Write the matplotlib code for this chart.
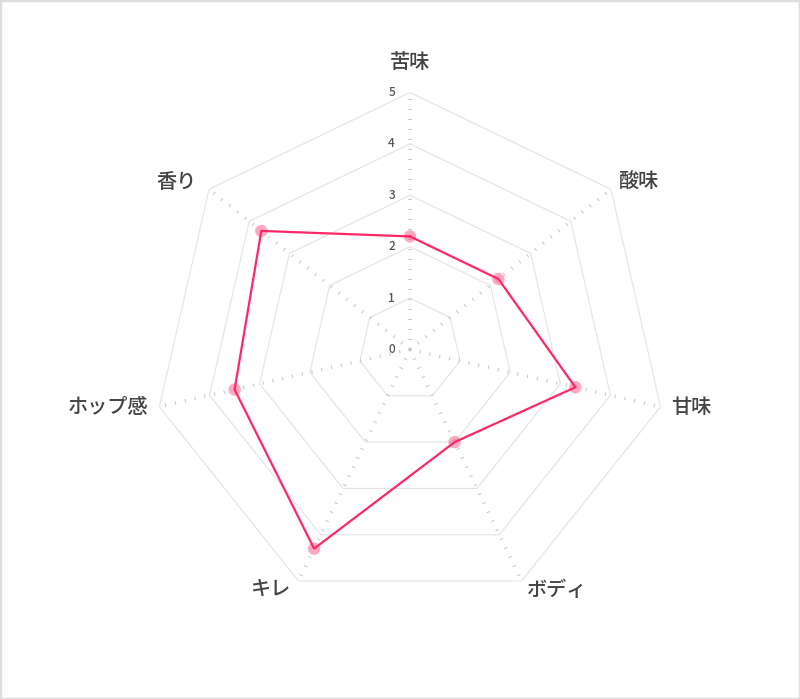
import numpy as np
import matplotlib.pyplot as plt
from matplotlib.patches import Rectangle

plt.rcParams['font.family'] = ['Noto Sans CJK JP', 'DejaVu Sans']
plt.rcParams['lines.scale_dashes'] = False

# データ
labels = ['苦味', '酸味', '甘味', 'ボディ', 'キレ', 'ホップ感', '香り']
values = [2.2, 2.2, 3.3, 2.0, 4.3, 3.5, 3.7]
ticks = [0, 1, 2, 3, 4, 5]

# ラベルの位置調整 (ピクセル)
label_offsets = [(0, 30), (8, 7), (11, -1), (5, -9), (-7, -8), (-11, -1), (-12, 7)]
label_ha = ['center', 'left', 'left', 'left', 'right', 'right', 'right']

W, H = 800, 699
cx, cy, R = 410, 349.5, 257

fig = plt.figure(figsize=(W / 100, H / 100), dpi=100)
ax = fig.add_axes([(cx - R) / W, (H - cy - R) / H, 2 * R / W, 2 * R / H],
                  projection='polar')
ax.set_theta_zero_location('N')
ax.set_theta_direction(-1)
ax.set_ylim(0, 5)
ax.axis('off')

n = len(labels)
theta = np.arange(n) * 2 * np.pi / n
theta_c = np.append(theta, theta[0])

# 多角形のグリッド
for k in ticks[1:]:
    ax.plot(theta_c, [k] * (n + 1), color='#e3e3e3', lw=0.8, zorder=1)

# 放射線 (点線)
for t in theta:
    ax.plot([t, t], [0, ticks[-1]], color='#c8c8c8', lw=2.6,
            linestyle=(0, (0.75, 6.45)), solid_capstyle='butt',
            dash_capstyle='butt', zorder=1)

# 目盛りラベル
for k in ticks:
    ax.annotate(str(k), xy=(0, k), xytext=(-15, 0), textcoords='offset pixels',
                ha='right', va='center', fontsize=8.5, fontweight='medium',
                color='#555555', annotation_clip=False)

# 項目ラベル
for t, lab, off, ha in zip(theta, labels, label_offsets, label_ha):
    ax.annotate(lab, xy=(t, ticks[-1]), xytext=off, textcoords='offset pixels',
                ha=ha, va='center', fontsize=14.5, fontweight='medium',
                color='#444444', annotation_clip=False)

# データ
vals_c = values + values[:1]
ax.plot(theta_c, vals_c, color='#ff2866', lw=1.6, zorder=3)
ax.scatter(theta, values, s=80, color='#ff2866', alpha=0.4,
           edgecolors='none', zorder=4)

fig.patches.append(Rectangle((0, 0), 1, 1, transform=fig.transFigure,
                             fill=False, edgecolor='#dddddd', lw=2.5))

fig.savefig('out.png', dpi=100, facecolor='white')
